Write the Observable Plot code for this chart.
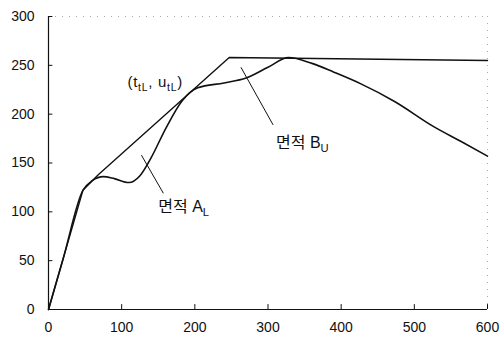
<!DOCTYPE html>
<html><head><meta charset="utf-8">
<script src="https://cdn.jsdelivr.net/npm/d3@7"></script>
<script src="https://cdn.jsdelivr.net/npm/@observablehq/plot@0.6"></script>
<style>body{margin:0;background:#fff}</style>
</head><body><div id="chart"></div>
<script>
const xTicks = [0, 100, 200, 300, 400, 500, 600];
const yTicks = [0, 50, 100, 150, 200, 250, 300];

// measured response curve
const curveX = [0, 20, 47, 60, 75, 90, 110, 125, 140, 160, 183, 204, 240, 270, 300, 328, 360, 390, 427, 473, 527, 564, 600];
const curveY = [0, 52, 122, 132, 136, 134, 130, 137, 155, 185, 214, 227, 232, 237, 248, 258, 252, 243, 231, 213, 187, 172, 157];

// idealised polyline
const polyX = [0, 47, 68, 247, 600];
const polyY = [0, 122, 138, 258, 255];

// annotations
const pointLabel = "(t_tL, u_tL)";
const areaLabels = ["면적 A_L", "면적 B_U"];
const pointLabelX = [108];
const pointLabelY = [233];
const areaLabelX = [150, 311];
const areaLabelY = [105, 171];

const leaderX1 = [157, 307];
const leaderY1 = [119, 189];
const leaderX2 = [127, 263];
const leaderY2 = [158, 248];

const curve = curveX.map((x, i) => ({x, y: curveY[i]}));
const poly = polyX.map((x, i) => ({x, y: polyY[i]}));
const ptLab = [{t: pointLabel, x: pointLabelX[0], y: pointLabelY[0]}];
const areaLab = areaLabels.map((t, i) => ({t, x: areaLabelX[i], y: areaLabelY[i]}));
const leaders = leaderX1.map((x1, i) => ({x1, y1: leaderY1[i], x2: leaderX2[i], y2: leaderY2[i]}));

const font = "Arial, 'Liberation Sans', 'Noto Sans CJK KR', sans-serif";

const chart = Plot.plot({
  width: 502,
  height: 345,
  marginLeft: 48,
  marginRight: 15,
  marginTop: 16,
  marginBottom: 36,
  style: {fontFamily: font, background: "#fff", color: "#111"},
  x: {domain: [0, 600], ticks: xTicks},
  y: {domain: [0, 300], ticks: yTicks},
  marks: [
    // faint top and right border
    Plot.ruleY([300], {stroke: "#aaa", strokeDasharray: "1,6", strokeWidth: 1}),
    Plot.ruleX([600], {stroke: "#aaa", strokeDasharray: "1,6", strokeWidth: 1}),
    Plot.axisY({ticks: yTicks, tickSize: 0, tickPadding: 14, fontSize: 14, label: null}),
    Plot.axisX({ticks: xTicks, tickSize: 0, tickPadding: 13, fontSize: 14, label: null}),
    // inward ticks
    Plot.ruleY(yTicks, {x1: 0, x2: 6, stroke: "#111"}),
    Plot.ruleX(xTicks, {y1: 0, y2: 5, stroke: "#111"}),
    Plot.ruleX([0], {stroke: "#111", strokeWidth: 1.2}),
    Plot.ruleY([0], {stroke: "#111", strokeWidth: 1.2}),
    Plot.line(poly, {x: "x", y: "y", stroke: "#111", strokeWidth: 1.4}),
    Plot.line(curve, {x: "x", y: "y", curve: "monotone-x", stroke: "#111", strokeWidth: 1.6}),
    Plot.link(leaders, {x1: "x1", y1: "y1", x2: "x2", y2: "y2", stroke: "#111", strokeWidth: 1}),
    Plot.text(ptLab, {x: "x", y: "y", text: "t", fontSize: 15, textAnchor: "start", lineAnchor: "middle", fill: "#111"}),
    Plot.text(areaLab, {x: "x", y: "y", text: "t", fontSize: 16, textAnchor: "start", lineAnchor: "middle", fill: "#111"})
  ]
});

// turn "_xx" into subscripts
d3.select(chart).selectAll("text").each(function() {
  const el = d3.select(this);
  const s = el.text();
  if (!s.includes("_")) return;
  if (s.startsWith("(")) el.attr("letter-spacing", 0.7);
  el.text(null);
  const parts = s.split(/(_[A-Za-z]+)/).filter(p => p.length);
  let shifted = false;
  for (const p of parts) {
    if (p.startsWith("_")) {
      el.append("tspan").attr("dy", 4).attr("font-size", "0.7em").text(p.slice(1));
      shifted = true;
    } else {
      const t = el.append("tspan").text(p);
      if (shifted) { t.attr("dy", -4); shifted = false; }
    }
  }
});

document.getElementById("chart").appendChild(chart);
</script>
</body></html>
